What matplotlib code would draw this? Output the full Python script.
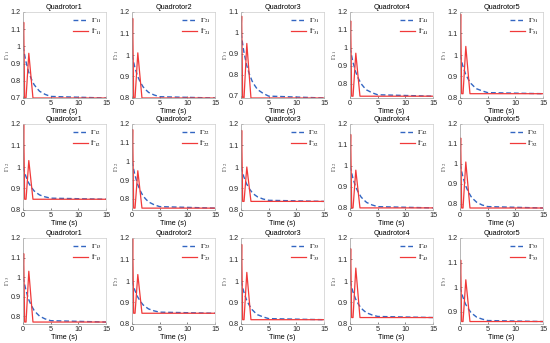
import numpy as np
import matplotlib
matplotlib.use("Agg")
import matplotlib.pyplot as plt
from matplotlib.ticker import MultipleLocator, FormatStrFormatter

plt.rcParams["font.family"] = ["Liberation Sans", "DejaVu Sans"]
plt.rcParams["mathtext.fontset"] = "stix"

titles = ["Quadrotor1", "Quadrotor2", "Quadrotor3", "Quadrotor4", "Quadrotor5"]

# time grids
t_ref = [0, 0.5, 1, 1.5, 2, 2.5, 3, 4, 5, 15]
t_est = [0, 0.12, 0.3, 0.55, 1.05, 1.8, 15]

# reference (dashed) curves, row by row
gamma_ref = [
    [[1, 0.916, 0.853, 0.811, 0.778, 0.757, 0.739, 0.721, 0.709, 0.70],
     [1, 0.944, 0.902, 0.874, 0.852, 0.838, 0.826, 0.814, 0.806, 0.80],
     [1, 0.913, 0.848, 0.805, 0.771, 0.749, 0.730, 0.712, 0.699, 0.69],
     [1, 0.924, 0.868, 0.830, 0.800, 0.781, 0.765, 0.749, 0.738, 0.73],
     [1, 0.950, 0.912, 0.887, 0.867, 0.854, 0.843, 0.833, 0.825, 0.82]],
    [[1, 0.958, 0.927, 0.906, 0.889, 0.879, 0.870, 0.861, 0.855, 0.85],
     [1, 0.930, 0.878, 0.843, 0.815, 0.798, 0.783, 0.768, 0.758, 0.75],
     [1, 0.955, 0.922, 0.899, 0.882, 0.870, 0.861, 0.851, 0.845, 0.84],
     [1, 0.944, 0.902, 0.874, 0.852, 0.838, 0.826, 0.814, 0.806, 0.80],
     [1, 0.938, 0.892, 0.861, 0.837, 0.822, 0.809, 0.795, 0.787, 0.78]],
    [[1, 0.936, 0.887, 0.855, 0.830, 0.814, 0.800, 0.786, 0.777, 0.77],
     [1, 0.958, 0.927, 0.906, 0.889, 0.879, 0.870, 0.861, 0.855, 0.85],
     [1, 0.950, 0.912, 0.887, 0.867, 0.854, 0.843, 0.833, 0.825, 0.82],
     [1, 0.952, 0.917, 0.893, 0.874, 0.862, 0.852, 0.842, 0.835, 0.83],
     [1, 0.961, 0.931, 0.912, 0.896, 0.887, 0.878, 0.870, 0.864, 0.86]],
]

# estimated (red) curves
gamma_est = [
    [[1.0, 1.14, 0.70, 0.70, 0.96, 0.70, 0.70],
     [1.0, 1.17, 0.80, 0.80, 1.01, 0.80, 0.80],
     [1.0, 1.08, 0.69, 0.69, 0.95, 0.69, 0.69],
     [1.0, 1.15, 0.73, 0.73, 0.97, 0.73, 0.73],
     [1.0, 1.19, 0.82, 0.82, 1.04, 0.82, 0.82]],
    [[1.0, 1.20, 0.85, 0.85, 1.03, 0.85, 0.85],
     [1.0, 1.17, 0.75, 0.75, 0.95, 0.75, 0.75],
     [1.0, 1.17, 0.84, 0.84, 1.00, 0.84, 0.84],
     [1.0, 1.15, 0.80, 0.80, 0.98, 0.80, 0.80],
     [1.0, 1.13, 0.78, 0.78, 1.01, 0.78, 0.78]],
    [[1.0, 1.12, 0.77, 0.77, 1.03, 0.77, 0.77],
     [1.0, 1.20, 0.85, 0.85, 1.03, 0.85, 0.85],
     [1.0, 1.17, 0.82, 0.82, 1.04, 0.82, 0.82],
     [1.0, 1.15, 0.83, 0.83, 1.06, 0.83, 0.83],
     [1.0, 1.11, 0.86, 0.86, 1.03, 0.86, 0.86]],
]

y_limits = [
    [(0.7, 1.2), (0.8, 1.2), (0.69, 1.1), (0.72, 1.2), (0.8, 1.2)],
    [(0.8, 1.2), (0.74, 1.2), (0.8, 1.2), (0.79, 1.2), (0.77, 1.2)],
    [(0.76, 1.2), (0.8, 1.2), (0.8, 1.2), (0.8, 1.2), (0.85, 1.2)],
]

fig = plt.figure(figsize=(5.5, 3.43), dpi=100)
W, H = 550, 343
lefts = [23, 132, 241, 350, 460]
tops = [12, 124, 238]
aw, ah = 83, 86

for r in range(3):
    for c in range(5):
        ax = fig.add_axes([lefts[c] / W, 1 - (tops[r] + ah) / H, aw / W, ah / H])
        i, j = c + 1, r + 1
        ax.plot(t_ref, gamma_ref[r][c], color="#3366c2", lw=1.0,
                dashes=(3.5, 2), label=r"$\Gamma_{%d%d}$" % (i, j))
        ax.plot(t_est, gamma_est[r][c], "-", color="#f03a3a", lw=0.9,
                label=r"$\hat{\Gamma}_{%d%d}$" % (i, j))
        ax.set_xlim(0, 15)
        ax.set_ylim(*y_limits[r][c])
        ax.set_xticks([0, 5, 10, 15])
        ax.yaxis.set_major_locator(MultipleLocator(0.1))
        ax.yaxis.set_major_formatter(FormatStrFormatter("%g"))
        ax.tick_params(direction="in", labelsize=5.2, length=1.5, width=0.4,
                       colors="#262626", pad=1.5)
        for s in ax.spines.values():
            s.set_linewidth(0.5)
            s.set_color("#9a9a9a")
        ax.spines["top"].set_color("#cccccc")
        ax.spines["right"].set_color("#cccccc")
        ax.set_title(titles[c], fontsize=5.2, pad=2)
        ax.set_xlabel("Time (s)", fontsize=5.2, labelpad=1)
        ax.set_ylabel(r"$\Gamma_{%d%d}$" % (i, j), fontsize=4.8,
                      color="#404040")
        ax.yaxis.set_label_coords(-0.135, 0.5)
        ax.legend(loc="upper right", fontsize=5.2, frameon=False,
                  handlelength=2.0, borderaxespad=0.2, labelspacing=0.1,
                  handletextpad=0.4)

fig.savefig("out.png", dpi=100)
